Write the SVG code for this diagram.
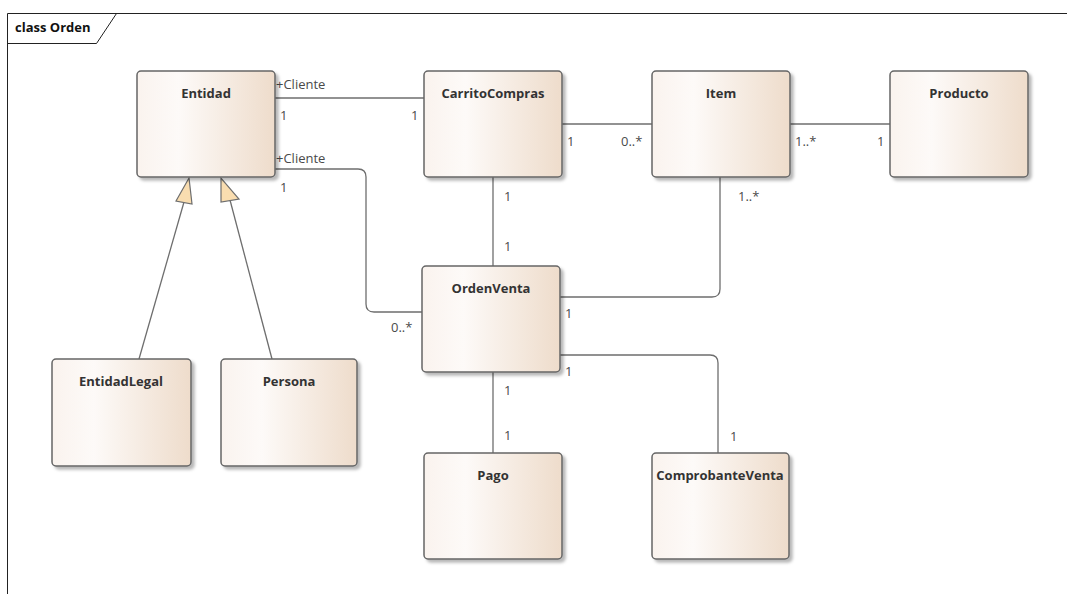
<svg xmlns="http://www.w3.org/2000/svg" width="1067" height="594" viewBox="0 0 1067 594">
  <defs>
    <linearGradient id="classFill" x1="0" y1="0" x2="1" y2="0">
      <stop offset="0" stop-color="#FAF3EE"/>
      <stop offset="0.3" stop-color="#FDFAF8"/>
      <stop offset="1" stop-color="#EEDCCB"/>
    </linearGradient>
    <filter id="shadow" x="-10%" y="-10%" width="130%" height="130%">
      <feDropShadow dx="3" dy="3" stdDeviation="1.5" flood-color="#000" flood-opacity="0.28"/>
    </filter>
  </defs>
  <style>
    .cls { fill: url(#classFill); stroke: #666; stroke-width: 1.5; filter: url(#shadow); }
    .name { font-family: "Open Sans", "Noto Sans", sans-serif; font-weight: bold; font-size: 13px; fill: #333; text-anchor: middle; }
    .conn { fill: none; stroke: #6e6e6e; stroke-width: 1.3; }
    .lbl { font-family: "Open Sans", "Noto Sans", sans-serif; font-size: 13px; fill: #4a4a4a; }
    .gen { fill: #F9DDB0; stroke: #6e6e6e; stroke-width: 1.2; }
    .frame { fill: none; stroke: #222; stroke-width: 1; }
    .title { font-family: "Open Sans", "Noto Sans", sans-serif; font-weight: bold; font-size: 13px; fill: #111; }
  </style>

  <rect x="0" y="0" width="1067" height="594" fill="#fff"/>

  <!-- package frame -->
  <g id="frame">
    <path class="frame" d="M7.5,594 V13.5 H1067"/>
    <path class="frame" d="M7.5,43.5 H96.5 L116.5,13.5"/>
    <text class="title" x="15" y="32">class Orden</text>
  </g>

  <!-- associations and generalizations -->
  <g id="connectors">
    <path class="conn" d="M275,98 H424"/>
    <path class="conn" d="M275,169 H358 Q366,169 366,177 V304 Q366,312 374,312 H422"/>
    <path class="conn" d="M562,124 H652"/>
    <path class="conn" d="M790,124 H890"/>
    <path class="conn" d="M493,177 V266"/>
    <path class="conn" d="M720,177 V289 Q720,297 712,297 H560"/>
    <path class="conn" d="M560,355 H710 Q718,355 718,363 V453"/>
    <path class="conn" d="M493,372 V453"/>

    <path class="conn" d="M139,359 L184,202"/>
    <polygon class="gen" points="189,178 176,201 192,204"/>
    <path class="conn" d="M272,359 L230,200"/>
    <polygon class="gen" points="221,178 221,202 239,199"/>

    <text class="lbl" x="276" y="89">+Cliente</text>
    <text class="lbl" x="280" y="120">1</text>
    <text class="lbl" x="411" y="120">1</text>
    <text class="lbl" x="276" y="163">+Cliente</text>
    <text class="lbl" x="280" y="192">1</text>
    <text class="lbl" x="391" y="332">0..*</text>
    <text class="lbl" x="567" y="146">1</text>
    <text class="lbl" x="621" y="146">0..*</text>
    <text class="lbl" x="795" y="146">1..*</text>
    <text class="lbl" x="877" y="146">1</text>
    <text class="lbl" x="504" y="201">1</text>
    <text class="lbl" x="504" y="251">1</text>
    <text class="lbl" x="738" y="201">1..*</text>
    <text class="lbl" x="565" y="318">1</text>
    <text class="lbl" x="565" y="376">1</text>
    <text class="lbl" x="730" y="441">1</text>
    <text class="lbl" x="504" y="395">1</text>
    <text class="lbl" x="504" y="440">1</text>
  </g>

  <g id="Entidad">
    <rect class="cls" x="137" y="71" width="138" height="106" rx="4"/>
    <text class="name" x="206" y="98">Entidad</text>
  </g>
  <g id="CarritoCompras">
    <rect class="cls" x="424" y="71" width="138" height="106" rx="4"/>
    <text class="name" x="493" y="98">CarritoCompras</text>
  </g>
  <g id="Item">
    <rect class="cls" x="652" y="71" width="138" height="106" rx="4"/>
    <text class="name" x="721" y="98">Item</text>
  </g>
  <g id="Producto">
    <rect class="cls" x="890" y="71" width="138" height="106" rx="4"/>
    <text class="name" x="959" y="98">Producto</text>
  </g>
  <g id="OrdenVenta">
    <rect class="cls" x="422" y="266" width="138" height="106" rx="4"/>
    <text class="name" x="491" y="293">OrdenVenta</text>
  </g>
  <g id="EntidadLegal">
    <rect class="cls" x="52" y="359" width="139" height="107" rx="4"/>
    <text class="name" x="121" y="386">EntidadLegal</text>
  </g>
  <g id="Persona">
    <rect class="cls" x="221" y="359" width="136" height="107" rx="4"/>
    <text class="name" x="289" y="386">Persona</text>
  </g>
  <g id="Pago">
    <rect class="cls" x="424" y="453" width="138" height="106" rx="4"/>
    <text class="name" x="493" y="480">Pago</text>
  </g>
  <g id="ComprobanteVenta">
    <rect class="cls" x="652" y="453" width="137" height="106" rx="4"/>
    <text class="name" x="720" y="480">ComprobanteVenta</text>
  </g>
</svg>
